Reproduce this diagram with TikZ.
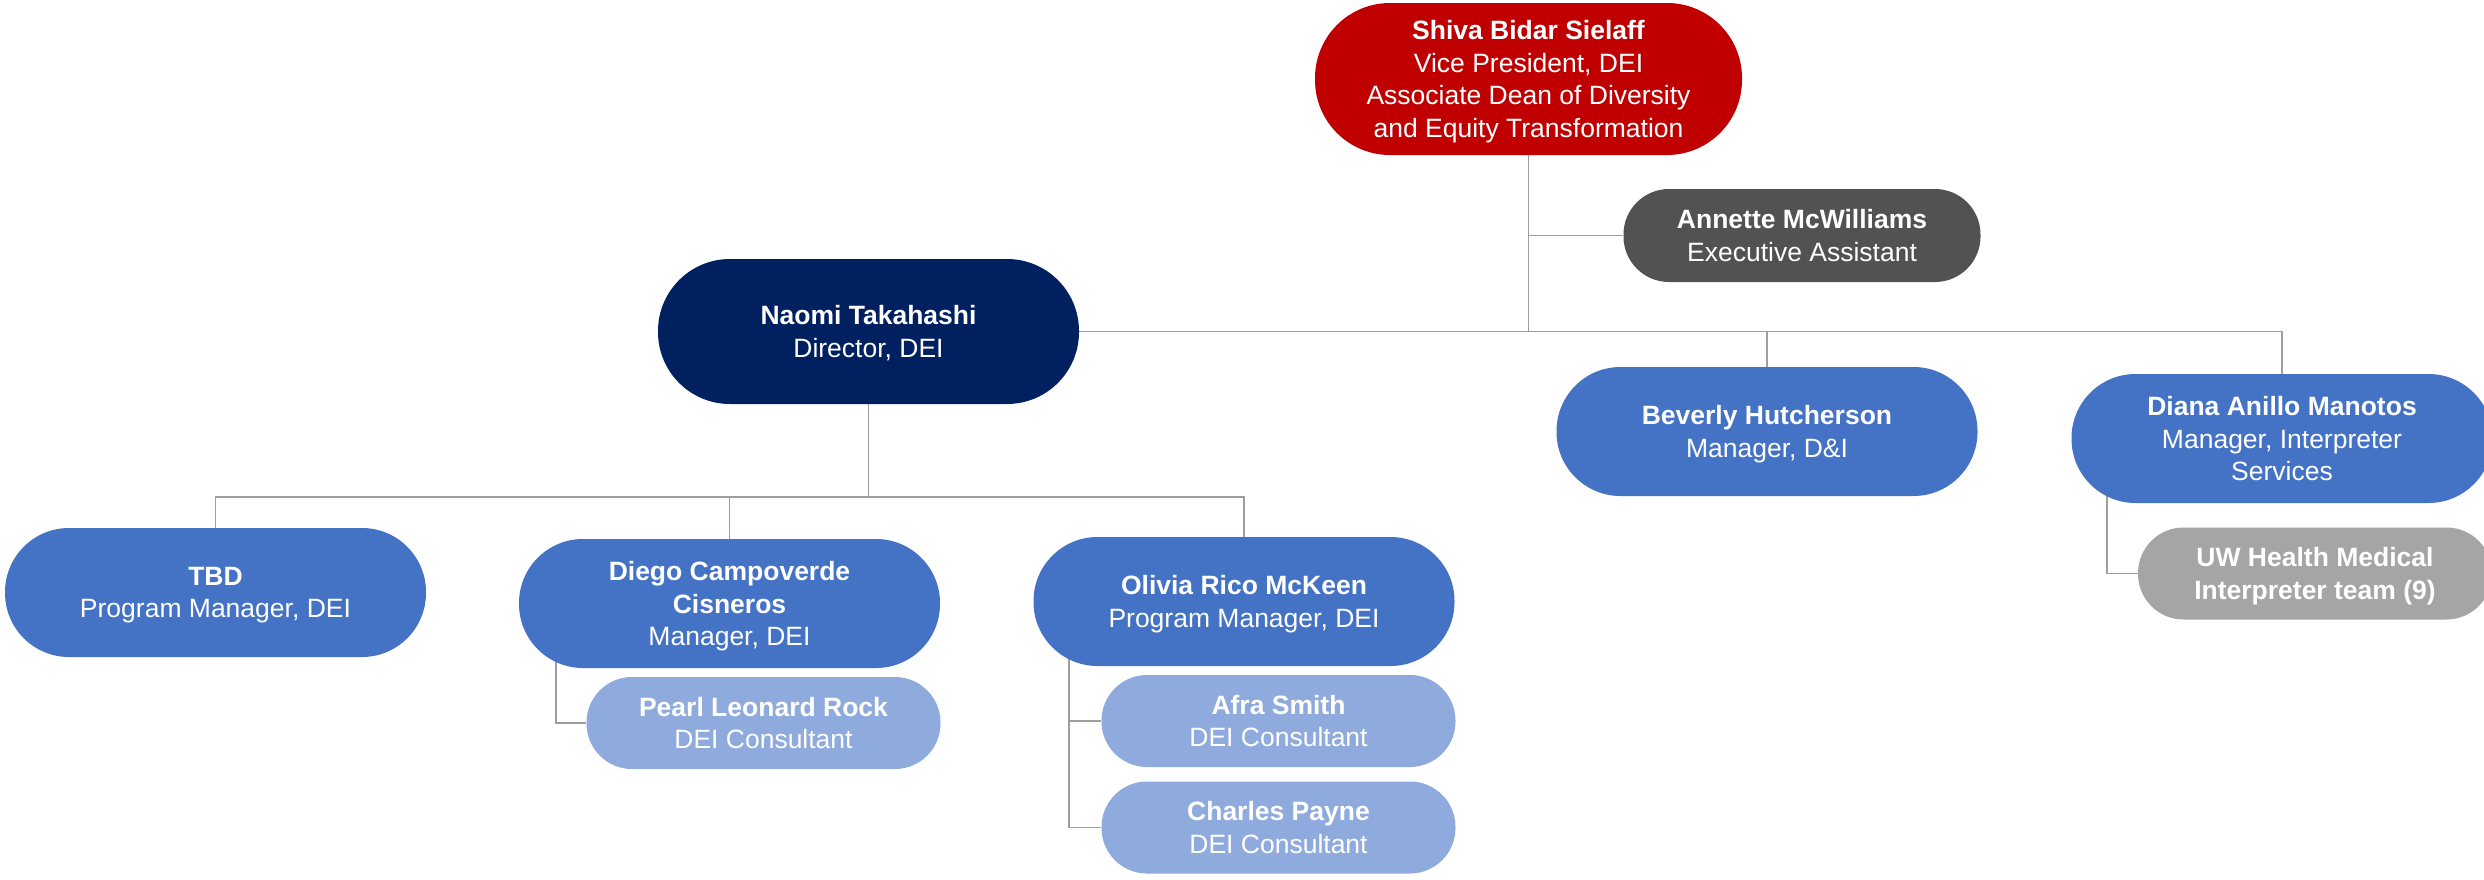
\documentclass[tikz,border=0pt]{standalone}
\usepackage{fontspec}
\setmainfont{Liberation Sans}
\usetikzlibrary{backgrounds}
\definecolor{vpred}{HTML}{C00000}
\definecolor{asstgray}{HTML}{525252}
\definecolor{dirnavy}{HTML}{002060}
\definecolor{mgrblue}{HTML}{4472C4}
\definecolor{consblue}{HTML}{8FAADC}
\definecolor{teamgray}{HTML}{A5A5A5}
\definecolor{linegray}{HTML}{9E9E9E}
\begin{document}
\begin{tikzpicture}[
	x=1pt, y=-1pt,
	font=\fontsize{26.5}{32.5}\selectfont,
	box/.style={rectangle,align=center,text=white,inner sep=0pt,text depth=-5pt},
	big/.style={box,minimum width=421pt,minimum height=129pt,rounded corners=64pt},
	small/.style={box,minimum width=354pt,minimum height=92pt,rounded corners=45.5pt},
	vp/.style={box,fill=vpred,minimum width=427pt,minimum height=152pt,rounded corners=75pt},
	ea/.style={small,fill=asstgray,minimum width=357pt,minimum height=93pt},
	dir/.style={big,fill=dirnavy,minimum height=145pt,rounded corners=72pt},
	mgr/.style={big,fill=mgrblue},
	cons/.style={small,fill=consblue},
	team/.style={small,fill=teamgray},
	link/.style={draw=linegray,line width=1.5pt},
	]
\useasboundingbox (0,0) rectangle (2484,879);
\node [vp] (shiva) at (1528.5,79) {\textbf{Shiva Bidar Sielaff}\\Vice President, DEI\\Associate Dean of Diversity\\and Equity Transformation};
\node [ea] (annette) at (1802,235.5) {\textbf{Annette McWilliams}\\Executive Assistant};
\node [dir] (naomi) at (868.5,331.5) {\textbf{Naomi Takahashi}\\Director, DEI};
\node [mgr] (beverly) at (1767,431.5) {\textbf{Beverly Hutcherson}\\Manager, D\&I};
\node [mgr] (diana) at (2282,438.5) {\textbf{Diana Anillo Manotos}\\Manager, Interpreter\\Services};
\node [team] (uw) at (2315,573.5) {\textbf{UW Health Medical}\\\textbf{Interpreter team (9)}};
\node [mgr] (tbd) at (215.5,592.5) {\textbf{TBD}\\Program Manager, DEI};
\node [mgr] (diego) at (729.5,603.5) {\textbf{Diego Campoverde}\\\textbf{Cisneros}\\Manager, DEI};
\node [mgr] (olivia) at (1244,601.5) {\textbf{Olivia Rico McKeen}\\Program Manager, DEI};
\node [cons] (pearl) at (763.5,723) {\textbf{Pearl Leonard Rock}\\DEI Consultant};
\node [cons] (afra) at (1278.5,721) {\textbf{Afra Smith}\\DEI Consultant};
\node [cons] (charles) at (1278.5,827.5) {\textbf{Charles Payne}\\DEI Consultant};
\coordinate (vpjoin) at (shiva.south |- naomi.east);
\coordinate (dirjoin) at (868.5,497);
\begin{scope}[on background layer]
	\draw [link] (shiva.south) -- (vpjoin);
	\draw [link] (vpjoin |- annette.west) -- (annette.west);
	\draw [link] (naomi.east) -- (vpjoin) -| (diana.north);
	\draw [link] (vpjoin -| beverly.north) -- (beverly.north);
	\draw [link] (naomi.south) -- (dirjoin);
	\draw [link] (tbd.north) |- (olivia.north |- dirjoin) -- (olivia.north);
	\draw [link] (dirjoin -| diego.north) -- (diego.north);
	\draw [link] (diego.center) ++(-173.5,0) |- (pearl.west);
	\draw [link] (olivia.center) ++(-175,0) coordinate (olvside) |- (charles.west);
	\draw [link] (olvside |- afra.west) -- (afra.west);
	\draw [link] (diana.center) ++(-175,0) |- (uw.west);
\end{scope}
\end{tikzpicture}
\end{document}
